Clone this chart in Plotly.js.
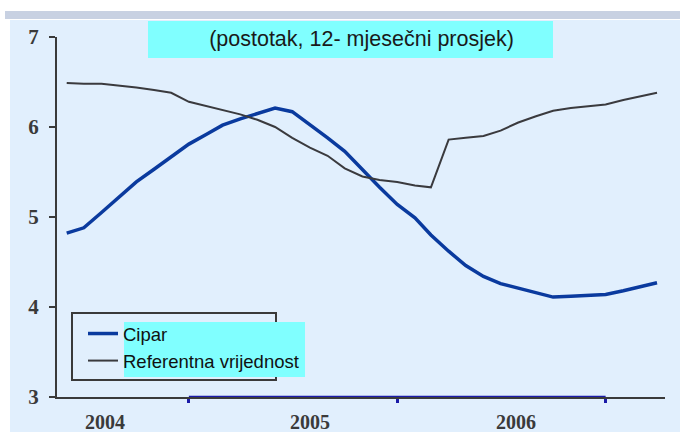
<!DOCTYPE html>
<html>
<head>
<meta charset="utf-8">
<script src="https://cdn.plot.ly/plotly-3.0.1.min.js"></script>
<style>html,body{margin:0;padding:0;background:#fff;}#chart{width:680px;height:432px;}</style>
</head>
<body>
<div id="chart"></div>
<script>
// Monthly observations, June 2004 - April 2007
const months = [
  '2004-06','2004-07','2004-08','2004-09','2004-10','2004-11','2004-12',
  '2005-01','2005-02','2005-03','2005-04','2005-05','2005-06','2005-07','2005-08','2005-09','2005-10','2005-11','2005-12',
  '2006-01','2006-02','2006-03','2006-04','2006-05','2006-06','2006-07','2006-08','2006-09','2006-10','2006-11','2006-12',
  '2007-01','2007-02','2007-03','2007-04'
];
const cipar = [
  4.82, 4.88, 5.05, 5.22, 5.39, 5.53, 5.67,
  5.81, 5.92, 6.02, 6.09, 6.15, 6.21, 6.17, 6.03, 5.88, 5.73, 5.52, 5.33,
  5.14, 4.99, 4.80, 4.62, 4.46, 4.34, 4.26, 4.21, 4.16, 4.11, 4.12, 4.13,
  4.14, 4.18, 4.22, 4.27
];
const referentna = [
  6.49, 6.48, 6.48, 6.46, 6.44, 6.41, 6.38,
  6.28, 6.23, 6.19, 6.14, 6.08, 6.00, 5.88, 5.77, 5.68, 5.54, 5.45, 5.41,
  5.39, 5.35, 5.33, 5.86, 5.88, 5.90, 5.96, 6.05, 6.12, 6.18, 6.21, 6.23,
  6.25, 6.30, 6.34, 6.38
];
const seriesNames = ['Cipar', 'Referentna vrijednost'];
const yearLabels = ['2004', '2005', '2006'];
const yearBoundaries = ['2005-01-01', '2006-01-01', '2007-01-01'];
const chartTitle = '(postotak, 12- mjesečni prosjek)';

// layout helpers (pixel -> paper)
const L = 57, R = 15, T = 37, B = 35, W = 680, H = 432;
const pw = W - L - R, ph = H - T - B;
const px = v => (v - L) / pw;
const py = v => (H - B - v) / ph;

const xRange = ['2004-05-15', '2007-04-15'];
const labelPos = ['2004-08-07', '2005-08-01', '2006-07-28'];

const traces = [
  {
    x: months, y: cipar, name: seriesNames[0], type: 'scatter', mode: 'lines',
    line: {color: '#0a3a9e', width: 3.5}, xaxis: 'x', yaxis: 'y'
  },
  {
    x: months, y: referentna, name: seriesNames[1], type: 'scatter', mode: 'lines',
    line: {color: '#3a3a3e', width: 2}, xaxis: 'x2', yaxis: 'y'
  }
];

const serifBold = {family: 'Liberation Serif, DejaVu Serif, serif', size: 21, color: '#3a3a3a', weight: 'bold'};
const serifBoldX = {family: 'Liberation Serif, DejaVu Serif, serif', size: 20, color: '#3a3a3a', weight: 'bold'};

const layout = {
  width: W, height: H,
  margin: {l: L, r: R, t: T, b: B, pad: 0},
  paper_bgcolor: '#ffffff',
  plot_bgcolor: 'rgba(0,0,0,0)',
  showlegend: true,
  title: {
    text: chartTitle,
    font: {family: 'Liberation Sans, Arial, sans-serif', size: 21.5, color: '#1a1a1a'},
    x: 361.5 / W, xanchor: 'center', xref: 'container',
    y: 1 - 38 / H, yanchor: 'middle', yref: 'container'
  },
  xaxis: {
    type: 'date', range: xRange,
    showgrid: false, zeroline: false,
    showline: true, linecolor: '#3a3a3a', linewidth: 2,
    tickmode: 'array', tickvals: yearBoundaries, ticktext: ['', '', ''],
    ticks: 'outside', ticklen: 4, tickwidth: 3, tickcolor: '#1a1aa8',
    showticklabels: false, fixedrange: true
  },
  xaxis2: {
    type: 'date', range: xRange, overlaying: 'x', anchor: 'y', side: 'bottom',
    showgrid: false, zeroline: false, showline: false,
    tickmode: 'array', tickvals: labelPos, ticktext: yearLabels,
    ticks: '', ticklabelstandoff: 11,
    tickfont: serifBoldX, fixedrange: true
  },
  yaxis: {
    range: [3, 7], tickmode: 'linear', tick0: 3, dtick: 1,
    showgrid: false, zeroline: false,
    showline: true, linecolor: '#3a3a3a', linewidth: 2,
    ticks: 'outside', ticklen: 6, tickwidth: 2, tickcolor: '#3a3a3a',
    tickfont: serifBold, ticklabelstandoff: 6, fixedrange: true
  },
  legend: {
    x: px(83), xanchor: 'left', y: py(315), yanchor: 'top',
    bgcolor: 'rgba(0,0,0,0)', borderwidth: 0,
    font: {family: 'Liberation Sans, Arial, sans-serif', size: 18.5, color: '#111111'},
    tracegroupgap: 0
  },
  shapes: [
    // light blue panel background
    {type: 'rect', xref: 'paper', yref: 'paper', x0: px(10), x1: px(685), y0: py(440), y1: py(20),
     fillcolor: '#e1effd', line: {width: 0}, layer: 'below'},
    // grey band on top
    {type: 'rect', xref: 'paper', yref: 'paper', x0: px(5), x1: px(685), y0: py(19), y1: py(11),
     fillcolor: '#c8d1e2', line: {width: 0}, layer: 'below'},
    // title box
    {type: 'rect', xref: 'paper', yref: 'paper', x0: px(148), x1: px(553), y0: py(58), y1: py(21),
     fillcolor: '#80ffff', line: {width: 0}, layer: 'below'},
    // legend frame
    {type: 'rect', xref: 'paper', yref: 'paper', x0: px(72), x1: px(276), y0: py(380), y1: py(313),
     fillcolor: 'rgba(0,0,0,0)', line: {color: '#3a3a3a', width: 2}, layer: 'above'},
    // legend text highlight
    {type: 'rect', xref: 'paper', yref: 'paper', x0: px(124), x1: px(305), y0: py(377), y1: py(322),
     fillcolor: '#80ffff', line: {width: 0}, layer: 'above'},
    // blue segment on x axis
    {type: 'line', xref: 'x', yref: 'y', x0: yearBoundaries[0], x1: yearBoundaries[2], y0: 3, y1: 3,
     line: {color: '#1a1aa8', width: 2.5}, layer: 'above'}
  ]
};

Plotly.newPlot('chart', traces, layout, {displayModeBar: false, staticPlot: true});
</script>
</body>
</html>
